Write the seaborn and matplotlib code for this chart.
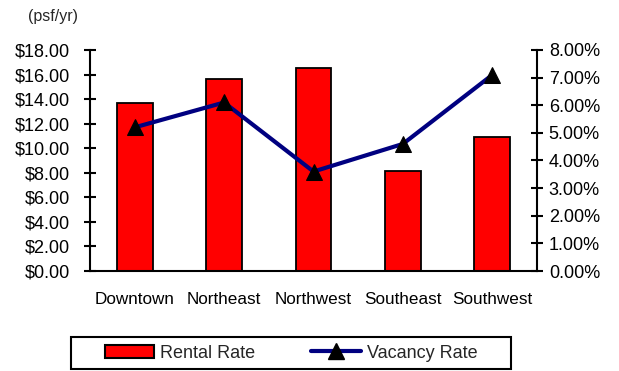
import matplotlib
matplotlib.use("Agg")
import matplotlib.pyplot as plt
import seaborn as sns
import pandas as pd
from matplotlib.ticker import FuncFormatter, FixedLocator
from matplotlib.lines import Line2D
from matplotlib.patches import Patch, Rectangle

categories = ["Downtown", "Northeast", "Northwest", "Southeast", "Southwest"]
rental_rate = [13.70, 15.60, 16.55, 8.15, 10.90]
vacancy_rate = [5.2, 6.1, 3.6, 4.6, 7.1]

sns.set_theme(style="white")
plt.rcParams["font.family"] = ["Liberation Sans", "DejaVu Sans"]
plt.rcParams["font.size"] = 13

df = pd.DataFrame({"Area": categories, "Rental": rental_rate, "Vacancy": vacancy_rate})

fig = plt.figure(figsize=(6.19, 3.71), dpi=100)
ax = fig.add_axes([90/619, 1-271/371, (537-90)/619, (271-50)/371])

sns.barplot(data=df, x="Area", y="Rental", ax=ax, color="#ff0000", width=0.4,
            edgecolor="black", linewidth=1.3, saturation=1)
ax.set_ylim(0, 18)
ax.set_xlim(-0.5, 4.5)
ax.set_yticks([0, 2, 4, 6, 8, 10, 12, 14, 16, 18])
ax.yaxis.set_major_formatter(FuncFormatter(lambda v, p: f"${v:.2f}"))
ax.set_xticks([-0.5, 0.5, 1.5, 2.5, 3.5, 4.5])
ax.set_xticklabels([""] * 6)
ax.xaxis.set_minor_locator(FixedLocator(range(len(categories))))
ax.set_xticklabels(categories, minor=True)
ax.tick_params(axis="x", which="minor", length=0, pad=15, labelsize=12.3, colors="black")
ax.tick_params(axis="x", which="major", direction="inout", length=9, width=1.5, color="black")
ax.tick_params(axis="y", direction="inout", length=9, width=1.5, color="black", labelsize=13,
               labelcolor="black", left=True, pad=10)
ax.set_xlabel("")
ax.set_ylabel("")
for s in ["top", "right"]:
    ax.spines[s].set_visible(False)
for s in ["left", "bottom"]:
    ax.spines[s].set_color("black")
    ax.spines[s].set_linewidth(1.5)

ax2 = ax.twinx()
sns.lineplot(x=list(range(len(categories))), y=vacancy_rate, ax=ax2, color="#000080",
             linewidth=3, marker="^", markersize=12, markerfacecolor="black",
             markeredgecolor="black")
ax2.set_ylim(0, 8)
ax2.set_yticks(range(0, 9))
ax2.yaxis.set_major_formatter(FuncFormatter(lambda v, p: f"{v:.2f}%"))
ax2.tick_params(axis="y", direction="inout", length=9, width=1.5, color="black", labelsize=13,
                labelcolor="black", right=True, pad=4)
for s in ["top", "left", "bottom"]:
    ax2.spines[s].set_visible(False)
ax2.spines["right"].set_color("black")
ax2.spines["right"].set_linewidth(1.5)
ax2.set_ylabel("")

fig.text(28/619, 1-16/371, "(psf/yr)", fontsize=11.5, va="center", ha="left")

# legend frame
fig.patches.append(Rectangle((71/619, 1-369/371), 440/619, 32/371, transform=fig.transFigure,
                             facecolor="white", edgecolor="black", linewidth=1.5, zorder=1))
handles = [Patch(facecolor="#ff0000", edgecolor="black", linewidth=1.5),
           Line2D([0], [0], color="#000080", linewidth=3, marker="^", markersize=12,
                  markerfacecolor="black", markeredgecolor="black")]
leg = fig.legend(handles, ["Rental Rate", "Vacancy Rate"], ncol=2,
                 bbox_to_anchor=(291/619, 1-353/371), loc="center",
                 frameon=False, fontsize=13,
                 handlelength=2.75, handletextpad=0.33, columnspacing=3.1, borderpad=0)

fig.savefig("out.png", dpi=100)
